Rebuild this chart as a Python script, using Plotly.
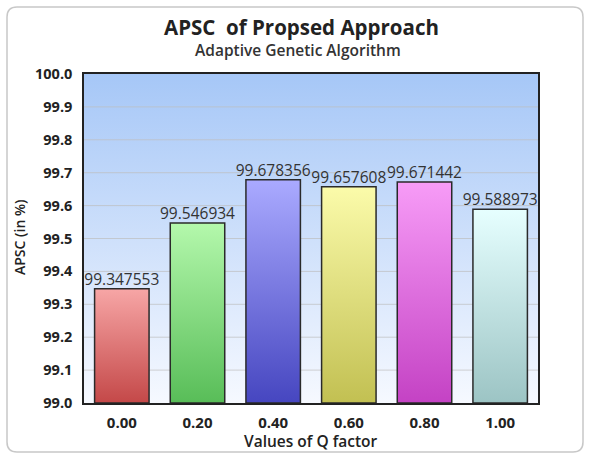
import plotly.graph_objects as go

categories = ["0.00", "0.20", "0.40", "0.60", "0.80", "1.00"]
values = [99.347553, 99.546934, 99.678356, 99.657608, 99.671442, 99.588973]
top_colors = ["#f7a6a6", "#b4f8ac", "#aaaaff", "#fbfbaa", "#f79cf7", "#e6ffff"]
bottom_colors = ["#c44848", "#58bd58", "#4646c0", "#c2c052", "#c442c4", "#9cc4c4"]
y_min, y_max = 99.0, 100.0
bar_half = 0.36

fig = go.Figure()

# plot background gradient
fig.add_trace(go.Scatter(
    x=[-0.5, 5.5, 5.5, -0.5, -0.5], y=[y_min, y_min, y_max, y_max, y_min],
    mode="lines", line=dict(width=0), fill="toself",
    fillgradient=dict(type="vertical", colorscale=[[0, "#f6f9ff"], [1, "#a6c7f7"]]),
    hoverinfo="skip", showlegend=False))

# grid lines (drawn above background)
for t in [99.1, 99.2, 99.3, 99.4, 99.5, 99.6, 99.7, 99.8, 99.9]:
    fig.add_trace(go.Scatter(x=[-0.5, 5.5], y=[t, t], mode="lines",
                             line=dict(color="rgba(190,190,190,0.7)", width=1),
                             hoverinfo="skip", showlegend=False))

for i, (v, tc, bc) in enumerate(zip(values, top_colors, bottom_colors)):
    fig.add_trace(go.Scatter(
        x=[i - bar_half, i + bar_half, i + bar_half, i - bar_half, i - bar_half],
        y=[y_min, y_min, v, v, y_min],
        mode="lines", line=dict(color="#2a2a2a", width=1.5), fill="toself",
        fillgradient=dict(type="vertical", colorscale=[[0, bc], [1, tc]]),
        hoverinfo="skip", showlegend=False))

fig.add_trace(go.Scatter(
    x=list(range(len(values))), y=values, mode="text",
    text=[f"{v:.6f}" for v in values], textposition="top center",
    textfont=dict(family="Open Sans", size=15.5, color="#333333"),
    hoverinfo="skip", showlegend=False, cliponaxis=False))

L, R, T, B = 84, 52, 74, 54
W, H = 590, 457
pw, ph = W - L - R, H - T - B

def px(x):
    return (x - L) / pw

def py(y):
    return (H - B - y) / ph

# rounded outer border
x0, x1, y0, y1 = px(7), px(583), py(452), py(7)
rx, ry = 10 / pw, 10 / ph
path = (f"M {x0+rx},{y1} L {x1-rx},{y1} Q {x1},{y1} {x1},{y1-ry} "
        f"L {x1},{y0+ry} Q {x1},{y0} {x1-rx},{y0} L {x0+rx},{y0} "
        f"Q {x0},{y0} {x0},{y0+ry} L {x0},{y1-ry} Q {x0},{y1} {x0+rx},{y1} Z")
fig.add_shape(type="path", path=path, xref="paper", yref="paper",
              line=dict(color="#c8c8c8", width=1.5), layer="below")

def ann(text, x, y, size, weight, color="#222222", angle=0):
    return dict(text=text, x=px(x), y=py(y), xref="paper", yref="paper",
                xanchor="center", yanchor="middle", textangle=angle, showarrow=False,
                font=dict(family="Open Sans", size=size, color=color, weight=weight))

fig.update_layout(
    width=W, height=H,
    margin=dict(l=L, r=R, t=T, b=B),
    paper_bgcolor="white", plot_bgcolor="white",
    font=dict(family="Open Sans", color="#222222"),
    xaxis=dict(range=[-0.5, 5.5], tickvals=list(range(len(categories))), ticktext=categories,
               showgrid=False, zeroline=False, showline=True, linecolor="#222222", linewidth=1.5,
               mirror=True, ticks="", ticklabelstandoff=5,
               tickfont=dict(family="Open Sans", size=15, color="#222222", weight="bold")),
    yaxis=dict(range=[y_min, y_max], tickvals=[99.0 + k / 10 for k in range(11)],
               ticktext=[f"{99.0 + k / 10:.1f}" for k in range(11)],
               showgrid=False, zeroline=False, showline=True, linecolor="#222222", linewidth=1.5,
               mirror=True, ticks="", ticklabelstandoff=7,
               tickfont=dict(family="Open Sans", size=14.5, color="#222222", weight="bold")),
    annotations=[
        ann("APSC  of Propsed Approach", 301, 27, 20.5, "bold"),
        ann("Adaptive Genetic Algorithm", 298, 50, 15.5, 600, color="#333333"),
        ann("Values of Q factor", 311, 441, 15.5, 600),
        ann("APSC (in %)", 19, 238, 14, 600, angle=-90),
    ],
)

fig.write_html("out.html")
